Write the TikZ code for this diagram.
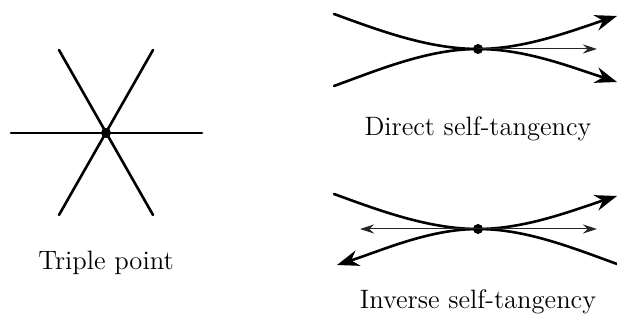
\documentclass[tikz,border=0pt]{standalone}
\usetikzlibrary{arrows.meta}
\begin{document}
\begin{tikzpicture}[x=0.5pt,y=0.5pt,every node/.style={font=\fontsize{13.3}{15}\selectfont},
  strand/.style={line width=1.3pt,line cap=round},
  bigtip/.style={-{Stealth[length=11pt,width=8pt]}},
  thinarrow/.style={line width=0.5pt,black!85,-{Stealth[length=7pt,width=4.5pt]}},
  dot/.style={circle,fill,inner sep=0pt,minimum size=5pt}]
\useasboundingbox (0,0) rectangle (617,320);
% triple point
\node[dot] (tp) at (106,187) {};
\coordinate (tpW) at (11,187);  \coordinate (tpE) at (202,187);
\coordinate (tpNW) at (59,270); \coordinate (tpSE) at (153,105);
\coordinate (tpNE) at (153,270); \coordinate (tpSW) at (59,105);
\draw[strand] (tpW)--(tpE);
\draw[strand] (tpNW)--(tpSE);
\draw[strand] (tpNE)--(tpSW);
\node (tplab) at (106,57) {Triple point};
% direct self-tangency: both branches go the same way
\node[dot] (dt) at (478,271) {};
\coordinate (dtUL) at (334,306); \coordinate (dtUR) at (617,304);
\coordinate (dtLL) at (334,234); \coordinate (dtLR) at (617,238);
\coordinate (dtR) at (597,271);
\draw[strand,bigtip] (dtUL) to[out=-20,in=180,looseness=0.85] (dt.center) to[out=0,in=198,looseness=0.85] (dtUR);
\draw[strand,bigtip] (dtLL) to[out=20,in=180,looseness=0.85] (dt.center) to[out=0,in=162,looseness=0.85] (dtLR);
\draw[thinarrow] (dt.center)--(dtR);
\node (dtlab) at (478,191) {Direct self-tangency};
% inverse self-tangency: branches go opposite ways
\node[dot] (it) at (478,91) {};
\coordinate (itUL) at (334,126); \coordinate (itUR) at (617,124);
\coordinate (itLL) at (337,55);  \coordinate (itLR) at (617,56);
\coordinate (itR) at (597,91);   \coordinate (itL) at (360,91);
\draw[strand,bigtip] (itUL) to[out=-20,in=180,looseness=0.85] (it.center) to[out=0,in=198,looseness=0.85] (itUR);
\draw[strand,bigtip] (itLR) to[out=160,in=0,looseness=0.85] (it.center) to[out=180,in=18,looseness=0.85] (itLL);
\draw[thinarrow] (it.center)--(itR);
\draw[thinarrow] (it.center)--(itL);
\node (itlab) at (478,18) {Inverse self-tangency};
\end{tikzpicture}
\end{document}
